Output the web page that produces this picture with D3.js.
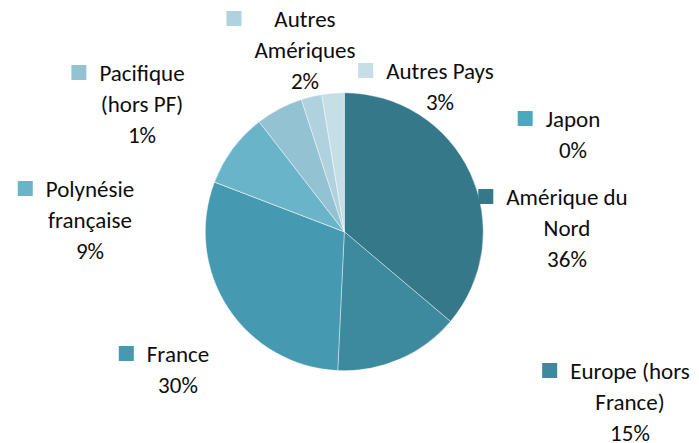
<!DOCTYPE html>
<html>
<head>
<meta charset="utf-8">
<script src="https://cdn.jsdelivr.net/npm/d3@7"></script>
<style>
  body { margin: 0; background: #fff; }
  svg { display: block; }
</style>
</head>
<body>
<svg id="chart" width="699" height="443"></svg>
<script>
// slice order clockwise from 12 o'clock
const categories = [
    "Amérique du Nord", "Europe (hors France)", "France", "Japon",
    "Polynésie française", "Pacifique (hors PF)", "Autres Amériques", "Autres Pays"
];
const shares = [36.2, 14.6, 30.1, 0, 8.7, 5.5, 2.4, 2.6];
const pctLabels = ["36%", "15%", "30%", "0%", "9%", "1%", "2%", "3%"];
const labelLines = [
    ["Amérique du", "Nord"],
    ["Europe (hors", "France)"],
    ["France"],
    ["Japon"],
    ["Polynésie", "française"],
    ["Pacifique", "(hors PF)"],
    ["Autres", "Amériques"],
    ["Autres Pays"]
];
const colors = ["#34788a", "#3d899d", "#4599b0", "#4aa8c0", "#6ab4ca", "#93c3d3", "#afd2de", "#c6dee6"];

// where each data label sits: centre of the text block, baseline of first line
const labelPos = [
    { cx: 567, y: 205 },
    { cx: 630, y: 379 },
    { cx: 178, y: 362 },
    { cx: 573, y: 127 },
    { cx: 90, y: 197 },
    { cx: 142, y: 81 },
    { cx: 305, y: 27 },
    { cx: 440, y: 79 }
];

const svg = d3.select("#chart"),
    cx = 344.3, cy = 231.7, radius = 139,
    lineH = 31;

const pie = d3.pie().sort(null).value(d => d.value);
const arc = d3.arc().innerRadius(0).outerRadius(radius);

const data = categories.map((c, i) => ({ name: c, value: shares[i], color: colors[i] }));

const g = svg.append("g").attr("transform", `translate(${cx},${cy})`);

g.selectAll("path")
    .data(pie(data))
    .enter()
    .append("path")
    .attr("d", arc)
    .attr("fill", d => d.data.color)
    .attr("stroke", "#ffffff")
    .attr("stroke-width", 0.6)
    .attr("stroke-opacity", 0.7);

const labels = svg.selectAll(".lbl")
    .data(data)
    .enter()
    .append("g")
    .attr("class", "lbl");

labels.each(function (d, i) {
    const lg = d3.select(this);
    const lines = labelLines[i].concat([pctLabels[i]]);
    const p = labelPos[i];
    let minX = Infinity;
    lines.forEach((t, k) => {
        const txt = lg.append("text")
            .attr("x", p.cx)
            .attr("y", p.y + k * lineH)
            .attr("text-anchor", "middle")
            .style("font-family", "Carlito, Lato, sans-serif")
            .style("font-size", "23px")
            .style("fill", "#0d0d0d")
            .text(t);
        const w = txt.node().getComputedTextLength();
        minX = Math.min(minX, p.cx - w / 2);
    });
    lg.insert("rect", "text")
        .attr("x", minX - 13 - 15)
        .attr("y", p.y - 16)
        .attr("width", 15)
        .attr("height", 15)
        .attr("fill", d.color);
});
</script>
</body>
</html>
